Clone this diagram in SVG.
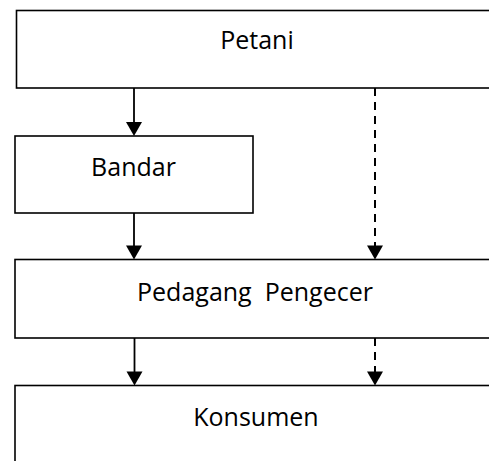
<svg xmlns="http://www.w3.org/2000/svg" width="489" height="461" viewBox="0 0 489 461">
  <style>
    .box { fill: #ffffff; stroke: #000000; stroke-width: 1.6; }
    .lbl { font-family: "Open Sans", "Noto Sans", "Liberation Sans", sans-serif; font-size: 25px; fill: #000000; text-anchor: middle; white-space: pre; }
    .flow { stroke: #000000; stroke-width: 1.8; fill: none; }
    .dash { stroke-dasharray: 8 6; stroke-width: 2; }
    .head { fill: #000000; }
  </style>
  <rect width="489" height="461" fill="#ffffff"/>

  <g id="petani">
    <rect class="box" x="16.5" y="10.5" width="490" height="77.5"/>
    <text class="lbl" x="257" y="49">Petani</text>
  </g>

  <g id="bandar">
    <rect class="box" x="15" y="136" width="238" height="77"/>
    <text class="lbl" x="133.5" y="175.5">Bandar</text>
  </g>

  <g id="pedagang-pengecer">
    <rect class="box" x="15" y="259.5" width="490" height="78.5"/>
    <text class="lbl" x="255" y="300.5">Pedagang  Pengecer</text>
  </g>

  <g id="konsumen">
    <rect class="box" x="15" y="385.5" width="490" height="90"/>
    <text class="lbl" x="256" y="425.5">Konsumen</text>
  </g>

  <g id="connectors">
    <!-- Petani to Bandar -->
    <line class="flow" x1="134" y1="88" x2="134" y2="124"/>
    <path class="head" d="M126,122 L142,122 L134,136 Z"/>
    <!-- Bandar to Pedagang Pengecer -->
    <line class="flow" x1="134" y1="213" x2="134" y2="247"/>
    <path class="head" d="M126,245.5 L142,245.5 L134,259.5 Z"/>
    <!-- Petani to Pedagang Pengecer (dashed) -->
    <line class="flow dash" x1="375" y1="88" x2="375" y2="246"/>
    <path class="head" d="M367,245.5 L383,245.5 L375,259.5 Z"/>
    <!-- Pedagang Pengecer to Konsumen -->
    <line class="flow" x1="134.5" y1="338" x2="134.5" y2="373"/>
    <path class="head" d="M126.5,371.5 L142.5,371.5 L134.5,385.5 Z"/>
    <!-- Pedagang Pengecer to Konsumen (dashed) -->
    <line class="flow dash" x1="375" y1="338" x2="375" y2="373"/>
    <path class="head" d="M367,371.5 L383,371.5 L375,385.5 Z"/>
  </g>
</svg>
